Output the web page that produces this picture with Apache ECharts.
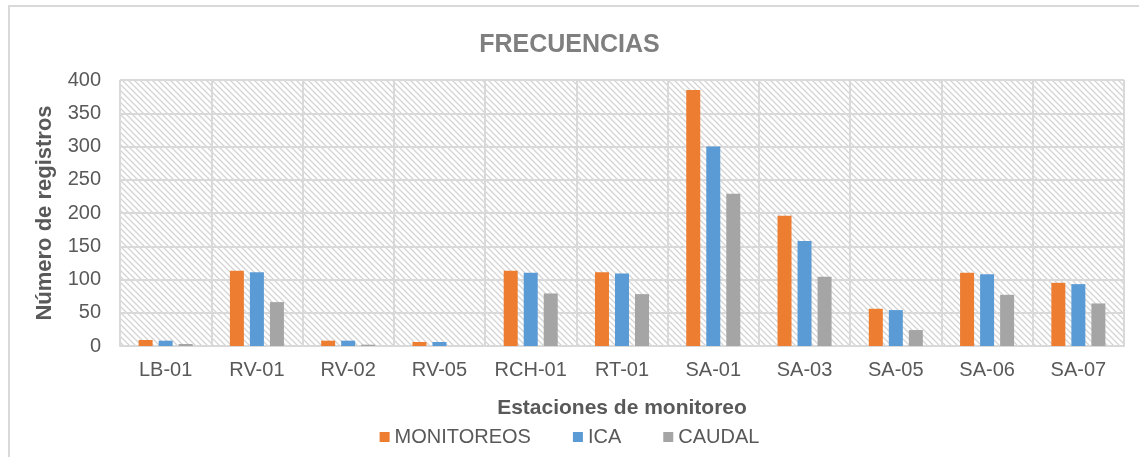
<!DOCTYPE html>
<html>
<head>
    <meta charset="utf-8">
    <title>FRECUENCIAS</title>
    <script src="https://cdn.jsdelivr.net/npm/echarts@6/dist/echarts.min.js"></script>
    <style>
        html, body { margin: 0; padding: 0; background: #fff; }
        #main { width: 1139px; height: 457px; }
    </style>
</head>
<body>
<div id="main"></div>
<script type="text/javascript">
    // datos
    var estaciones = ['LB-01', 'RV-01', 'RV-02', 'RV-05', 'RCH-01', 'RT-01', 'SA-01', 'SA-03', 'SA-05', 'SA-06', 'SA-07'];
    var monitoreos = [9, 113, 8, 6, 113, 111, 385, 196, 56, 110, 95];
    var ica = [8, 111, 8, 6, 110, 109, 300, 158, 54, 108, 93];
    var caudal = [3, 66, 2, 0, 79, 78, 229, 104, 24, 77, 64];

    // patron rayado del fondo
    function hatch() {
        var c = document.createElement('canvas');
        c.width = 6; c.height = 6;
        var ctx = c.getContext('2d');
        ctx.fillStyle = '#ffffff';
        ctx.fillRect(0, 0, 6, 6);
        ctx.strokeStyle = '#d4d4d4';
        ctx.lineWidth = 1.3;
        ctx.beginPath();
        ctx.moveTo(-1, -1); ctx.lineTo(7, 7);
        ctx.moveTo(-4, 2); ctx.lineTo(4, 10);
        ctx.moveTo(2, -4); ctx.lineTo(10, 4);
        ctx.stroke();
        return c;
    }

    var myChart = echarts.init(document.getElementById('main'), null, { renderer: 'canvas' });
    var txt = '#595959';
    var font = 'Liberation Sans, Arial, sans-serif';

    var option = {
        animation: false,
        textStyle: { fontFamily: font },
        title: {
            text: 'FRECUENCIAS',
            left: 'center',
            top: 28,
            textStyle: { color: '#7f7f7f', fontSize: 25, fontWeight: 'bold', fontFamily: font }
        },
        legend: {
            top: 422,
            left: 'center',
            itemWidth: 10,
            itemHeight: 10,
            itemGap: 42,
            icon: 'rect',
            textStyle: { color: txt, fontSize: 20, fontFamily: font },
            data: ['MONITOREOS', 'ICA', 'CAUDAL']
        },
        graphic: [{
            type: 'polyline',
            shape: { points: [[9, 460], [9, 6], [1140, 6]] },
            style: { fill: null, stroke: '#d9d9d9', lineWidth: 2 },
            silent: true
        }],
        grid: {
            left: 120,
            right: 15,
            top: 80,
            bottom: 111,
            show: true,
            borderWidth: 0,
            backgroundColor: { image: hatch(), repeat: 'repeat' }
        },
        xAxis: {
            type: 'category',
            data: estaciones,
            name: 'Estaciones de monitoreo',
            nameLocation: 'middle',
            nameGap: 52,
            nameTextStyle: { color: txt, fontSize: 21, fontWeight: 'bold', fontFamily: font },
            axisLine: { lineStyle: { color: '#d9d9d9', width: 2 } },
            axisTick: { show: false },
            axisLabel: { interval: 0, color: txt, fontSize: 20, margin: 14, fontFamily: font },
            splitLine: { show: true, interval: 0, lineStyle: { color: '#d9d9d9', width: 2 } }
        },
        yAxis: {
            type: 'value',
            min: 0,
            max: 400,
            interval: 50,
            name: 'Número de registros',
            nameLocation: 'middle',
            nameGap: 64,
            nameTextStyle: { color: txt, fontSize: 22, fontWeight: 'bold', fontFamily: font },
            axisLine: { show: false },
            axisTick: { show: false },
            axisLabel: { color: txt, fontSize: 20, margin: 19, fontFamily: font },
            splitLine: { show: true, lineStyle: { color: '#d9d9d9', width: 2 } }
        },
        series: [
            { name: 'MONITOREOS', type: 'bar', data: monitoreos, barWidth: 14, barGap: '43%', itemStyle: { color: '#ed7d31' } },
            { name: 'ICA', type: 'bar', data: ica, barWidth: 14, barGap: '43%', itemStyle: { color: '#5b9bd5' } },
            { name: 'CAUDAL', type: 'bar', data: caudal, barWidth: 14, barGap: '43%', itemStyle: { color: '#a5a5a5' } }
        ]
    };

    myChart.setOption(option);
    window.addEventListener('resize', myChart.resize);
</script>
</body>
</html>
